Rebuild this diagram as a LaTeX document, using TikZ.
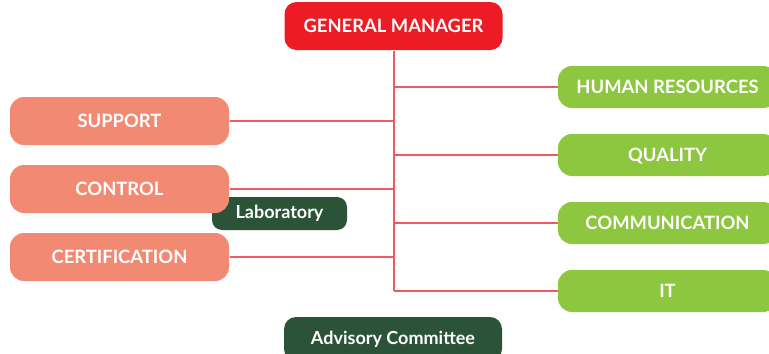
\documentclass[tikz,border=0pt]{standalone}
\usepackage{fontspec}
\setmainfont{Lato}
\usetikzlibrary{positioning}

\definecolor{gmred}{HTML}{ED1C24}
\definecolor{salmon}{HTML}{F28A73}
\definecolor{leafgreen}{HTML}{8DC63F}
\definecolor{darkgreen}{HTML}{2A5337}
\definecolor{linkred}{HTML}{EE5A63}

\tikzset{every picture/.style={line width=0.75pt}}
\tikzset{
  boxbase/.style={rounded corners=10.5pt, text=white, font=\fontsize{13.8}{15}\selectfont\bfseries, inner sep=0pt},
  capsbox/.style={boxbase, text height=0.9em, text depth=0pt},
  gmbox/.style={capsbox, fill=gmred, minimum width=163.5pt, minimum height=36pt, rounded corners=9pt},
  leftbox/.style={capsbox, fill=salmon, minimum width=164.25pt, minimum height=36pt},
  rightbox/.style={capsbox, fill=leafgreen, minimum width=164.25pt, minimum height=31.5pt},
  darkbox/.style={boxbase, fill=darkgreen, font=\fontsize{13.5}{15}\selectfont\bfseries, rounded corners=7.5pt},
  link/.style={draw=linkred, line width=1.5pt}
}

\begin{document}
\begin{tikzpicture}[x=0.75pt,y=0.75pt,yscale=-1,xscale=1]
\useasboundingbox (0,0) rectangle (769,354);
\clip (0,0) rectangle (769,354);

% Top node
\node [gmbox] (gm) at (393.5,26) {GENERAL MANAGER};

% Left column
\node [darkbox, minimum width=101.25pt, minimum height=24.75pt] (lab) at (279.5,213.5) {Laboratory};
\node [leftbox] (sup) at (119.5,121) {SUPPORT};
\node [leftbox] (ctl) at (119.5,189) {CONTROL};
\node [leftbox] (cer) at (119.5,257) {CERTIFICATION};

% Right column
\node [rightbox] (hr) at (667.5,87) {HUMAN RESOURCES};
\node [rightbox] (qua) at (667.5,155) {QUALITY};
\node [rightbox] (com) at (667.5,223) {COMMUNICATION};
\node [rightbox] (it) at (667.5,291) {IT};

% Bottom node
\node [darkbox, minimum width=163.5pt, minimum height=33pt, rounded corners=9pt] (adv) at (393,339) {Advisory Committee};

% Trunk and branches
\coordinate (end) at (it.west -| gm.south);
\draw [link] (gm.south) -- (end);
\foreach \b in {sup,ctl,cer}
  \draw [link] (\b.east) -- (\b.east -| gm.south);
\foreach \b in {hr,qua,com,it}
  \draw [link] (\b.west -| gm.south) -- (\b.west);

\end{tikzpicture}
\end{document}
